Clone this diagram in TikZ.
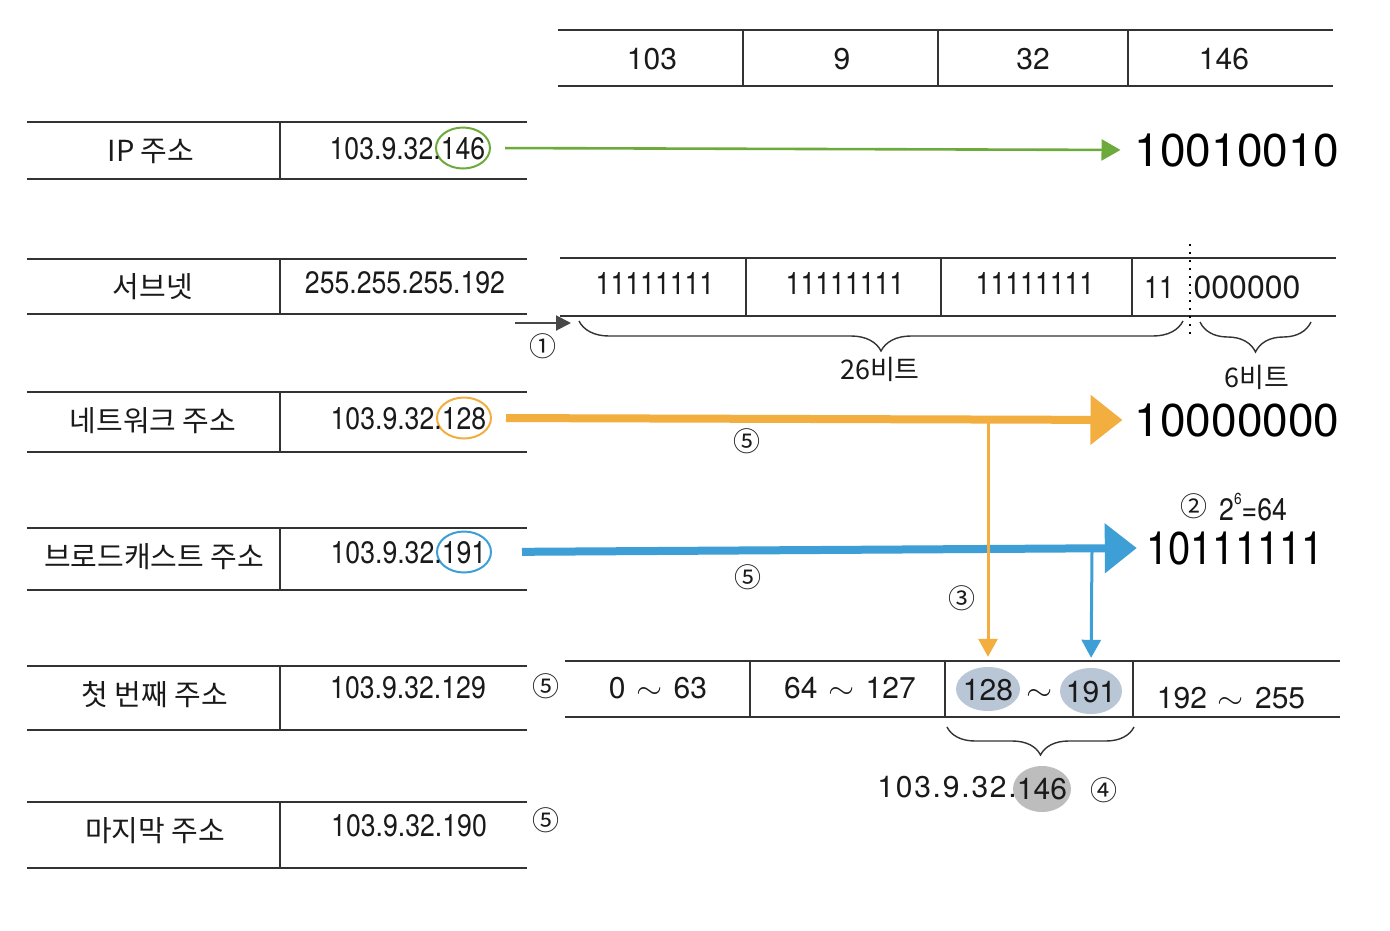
\documentclass[tikz,border=0pt]{standalone}
\usepackage{fontspec}
\setmainfont{TeX Gyre Heros}
\newfontfamily\kr{Noto Sans CJK KR}
\newfontfamily\narrow[FakeStretch=0.86]{TeX Gyre Heros}
\newfontfamily\slim[FakeStretch=0.87]{TeX Gyre Heros}
\newfontfamily\wide[LetterSpace=6]{TeX Gyre Heros}
\usetikzlibrary{arrows.meta,decorations.pathreplacing,shapes.geometric}

\definecolor{ipgreen}{HTML}{6DAA3C}
\definecolor{netorange}{HTML}{F2AE3F}
\definecolor{bcblue}{HTML}{3E9FD6}
\definecolor{rulegray}{HTML}{333333}
\definecolor{hilite}{HTML}{B9C6D6}
\definecolor{hgray}{HTML}{BDBDBD}
\definecolor{ink}{HTML}{1A1A1A}

\newcommand{\tildesym}{\scalebox{1.35}[1.2]{$\sim$}}
\newcommand{\rangesym}{\hspace{11pt}\tildesym\hspace{11pt}}

\tikzset{
  rule/.style={draw=rulegray, line width=1.8pt},
  sep/.style={draw=rulegray, line width=1.1pt},
  lbl/.style={font=\kr\fontsize{29}{32}\selectfont, inner sep=0pt, text=ink},
  val/.style={font=\narrow\fontsize{31}{34}\selectfont, inner sep=0pt, text=ink,
              text height=22pt, text depth=0pt},
  cell/.style={font=\fontsize{30}{34}\selectfont, inner sep=0pt, text=ink,
               text height=22pt, text depth=0pt},
  bin/.style={font=\narrow\fontsize{31}{34}\selectfont, inner sep=0pt, text=ink,
              text height=22pt, text depth=0pt},
  big/.style={font=\fontsize{46}{50}\selectfont, inner sep=0pt, text=black,
              text height=33pt, text depth=0pt},
  circnum/.style={font=\kr\fontsize{27}{30}\selectfont, inner sep=0pt, text=ink},
  bits/.style={font=\kr\fontsize{27}{30}\selectfont, inner sep=0pt, text=ink},
  ring/.style={ellipse, draw=#1, line width=2pt, inner sep=0pt,
               minimum width=54pt, minimum height=41pt},
  blob/.style={ellipse, fill=#1, inner sep=0pt},
  bracebelow/.style={draw=rulegray, line width=1.4pt, decorate,
                     decoration={brace, mirror, amplitude=#1}},
}

\begin{document}
\begin{tikzpicture}[x=1pt, y=-1pt]
\fill[white] (0,0) rectangle (1390,930);
\useasboundingbox (0,0) rectangle (1390,930);

% ---------- octet header: 103 | 9 | 32 | 146 ----------
\draw[rule] (558,30) -- (1333,30);
\draw[rule] (558,86) -- (1333,86);
\foreach \x in {743,938,1128} \draw[sep] (\x,30) -- (\x,86);
\node[cell] (o1) at (652,58) {103};
\node[cell] (o2) at (842,58) {9};
\node[cell] (o3) at (1033,58) {32};
\node[cell] (o4) at (1224,58) {146};

% ---------- left table rows ----------
\foreach \t/\b in {122/179, 259/314, 392/452, 528/590, 666/730, 802/868}{
  \draw[rule] (27,\t) -- (527,\t);
  \draw[rule] (27,\b) -- (527,\b);
  \draw[sep] (280,\t) -- (280,\b);
}

\node[lbl] (lip)  at (151,151) {IP 주소};
\node[lbl] (lsub) at (153,287) {서브넷};
\node[lbl] (lnet) at (153,421) {네트워크 주소};
\node[lbl] (lbc)  at (154,557) {브로드캐스트 주소};
\node[lbl] (lfst) at (155,695) {첫 번째 주소};
\node[lbl] (llst) at (155,831) {마지막 주소};

% IP address with the last octet ringed
\node[ring=ipgreen] (g146) at (463,148) {};
\node[val] (ipLast) at (463,148) {146};
\node[val, anchor=east] (ipHead) at (441,148) {103.9.32.};

\node[val] (vsub) at (405,282) {255.255.255.192};

\node[ring=netorange] (o128) at (464,418) {};
\node[val] (netLast) at (464,418) {128};
\node[val, anchor=east] (netHead) at (442,418) {103.9.32.};

\node[ring=bcblue] (b191) at (464,552) {};
\node[val] (bcLast) at (464,552) {191};
\node[val, anchor=east] (bcHead) at (442,552) {103.9.32.};

\node[val] (vfst) at (408,687) {103.9.32.129};
\node[val] (vlst) at (409,825) {103.9.32.190};
\node[circnum] (c5c) at (546,686) {⑤};
\node[circnum] (c5d) at (546,820) {⑤};

% ---------- subnet mask in binary ----------
\draw[rule] (560,258) -- (1336,258);
\draw[rule] (560,316) -- (1336,316);
\foreach \x in {746,941,1132} \draw[sep] (\x,258) -- (\x,316);
\draw[black, line width=2pt, dash pattern=on 2pt off 6pt] (1190,244) -- (1190,336);
\node[bin] (m1) at (655,283) {11111111};
\node[bin] (m2) at (845,283) {11111111};
\node[bin] (m3) at (1035,283) {11111111};
\node[bin] (m4a) at (1159,287) {11};
\node[cell, font=\fontsize{32}{34}\selectfont] (m4b) at (1247,287) {000000};

% step 1 arrow and the bit-count braces
\coordinate (s1start) at (515,323);
\coordinate (s1end) at (571,323);
\draw[draw=rulegray!90, line width=2pt, -{Triangle[length=15pt,width=15pt]}] (s1start) -- (s1end);
\node[circnum] (c1) at (543,346) {①};

\draw[bracebelow=30pt] (579,321) -- (1183,321);
\node[bits] (n26) at (880,369) {26비트};
\draw[bracebelow=30pt] (1200,322) -- (1311,322);
\node[bits] (n6) at (1257,377) {6비트};

% ---------- binary forms of the last octet ----------
\node[big] (bin146) at (1237,150) {10010010};
\node[big] (bin128) at (1237,420) {10000000};
\node[big, font=\slim\fontsize{46}{50}\selectfont] (bin191) at (1235,548) {10111111};
\node[font=\narrow\fontsize{31}{32}\selectfont, inner sep=0pt, text=ink, anchor=west]
  (pow) at (1219,507) {2\raisebox{0.5em}{\fontsize{16}{16}\selectfont 6}=64};
\node[circnum] (c2) at (1194,506) {②};

% green: IP octet to binary
\draw[ipgreen, line width=2.6pt, shorten <=14pt, shorten >=14pt,
      -{Triangle[length=19pt,width=21pt]}] (g146.east) -- (bin146.west);

% orange: network octet to binary
\draw[netorange, line width=8pt, shorten <=14pt, shorten >=12pt,
      -{Triangle[length=32pt,width=48pt]}] (o128.east) -- (bin128.west);
\node[circnum] (c5a) at (747,441) {⑤};

% blue: broadcast octet to binary
\draw[bcblue, line width=8pt, shorten <=30pt, shorten >=9pt,
      -{Triangle[length=32pt,width=48pt]}] (b191.east) -- (bin191.west);
\node[circnum] (c5b) at (748,577) {⑤};

% ---------- ranges of the 64-address blocks ----------
\draw[rule] (565,661) -- (1340,661);
\draw[rule] (565,717) -- (1340,717);
\foreach \x in {750,945,1133} \draw[sep] (\x,661) -- (\x,717);
\node[cell] (r1) at (658,687) {0\rangesym 63};
\node[cell] (r2) at (850,687) {64\rangesym 127};
\node[blob=hilite, minimum width=64pt, minimum height=44pt] (r128) at (988,689) {};
\node[blob=hilite, minimum width=62pt, minimum height=46pt] (r191) at (1091,691) {};
\node[cell] (t128) at (988,689) {128};
\node[cell] (tilde) at (1040,689) {\tildesym};
\node[cell] (t191) at (1091,691) {191};
\node[cell] (r4) at (1231,697) {192\rangesym 255};

% drops from the binary arrows into the matching block
\coordinate (oDrop) at (988,418);
\coordinate (bDrop) at (1092,552);
\draw[netorange, line width=3pt, shorten >=10pt,
      -{Triangle[length=18pt,width=19pt]}] (oDrop) -- (r128.north);
\draw[bcblue, line width=3pt, shorten >=10pt,
      -{Triangle[length=18pt,width=19pt]}] (bDrop) -- (r191.north);
\node[circnum] (c3) at (962,598) {③};

% the host lies in the 128~191 block
\draw[bracebelow=28pt] (947,727) -- (1134,727);
\node[blob=hgray, minimum width=58pt, minimum height=46pt] (h146) at (1042,789) {};
\node[cell] (hLast) at (1042,788) {146};
\node[cell, font=\wide\fontsize{30}{34}\selectfont, anchor=east] (hHead) at (1017,786) {103.9.32.};
\node[circnum] (c4) at (1104,790) {④};
\end{tikzpicture}
\end{document}
